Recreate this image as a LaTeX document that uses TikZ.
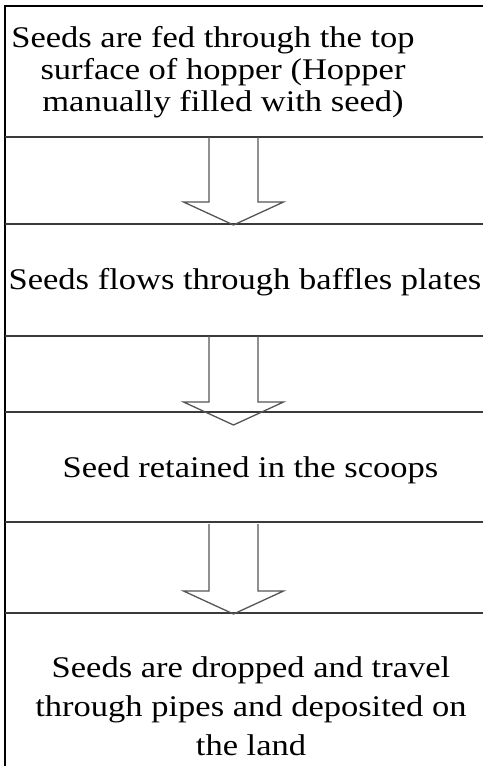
\documentclass[tikz,border=0pt]{standalone}
\usepackage{fontspec}
\setmainfont{Liberation Serif}[FakeStretch=1.15]
\usetikzlibrary{positioning}
\definecolor{lineGray}{HTML}{3A3A3A}
\definecolor{arrowGray}{HTML}{555555}
\tikzset{
    blockArrow/.pic={
		\draw[arrowGray, line width=1.3pt, line join=miter] (-24.5,0) -- (-24.5,#1) -- (-50,#1) -- (0,#1+23) -- (50,#1) -- (24.5,#1) -- (24.5,0);
	}
}
\tikzset{
    frameLine/.style={black, line width=2.6pt, line join=miter},
    sepLine/.style={lineGray, line width=1.4pt},
    stepText/.style={inner sep=0pt, align=center, font=\fontsize{30}{32}\selectfont}
}

\begin{document}
\begin{tikzpicture}[x=1pt,y=-1pt]
			\useasboundingbox (0,0) rectangle (483,766);
			\draw[frameLine] (5,766) -- (5,6) -- (483,6);
			\foreach \y in {137,224,336,412,522,613}
				\draw[sepLine] (5,\y) -- (483,\y);
			\pic at (233.5,137) {blockArrow=65};
			\pic at (233.5,336) {blockArrow=66};
			\pic at (233.5,524) {blockArrow=67};
			\node[stepText] (feed) at (223,72) {Seeds are fed through the top\hspace*{20pt}\\surface of hopper (Hopper\\manually filled with seed)};
			\node[stepText, anchor=base] (baffle) at (245,289) {Seeds flows through baffles plates};
			\node[stepText, anchor=base] (scoop) at (250.5,477) {Seed retained in the scoops};
			\node[stepText, font=\fontsize{30}{39}\selectfont] (drop) at (251,706) {Seeds are dropped and travel\\through pipes and deposited on\\the land};
	\end{tikzpicture}
\end{document}
